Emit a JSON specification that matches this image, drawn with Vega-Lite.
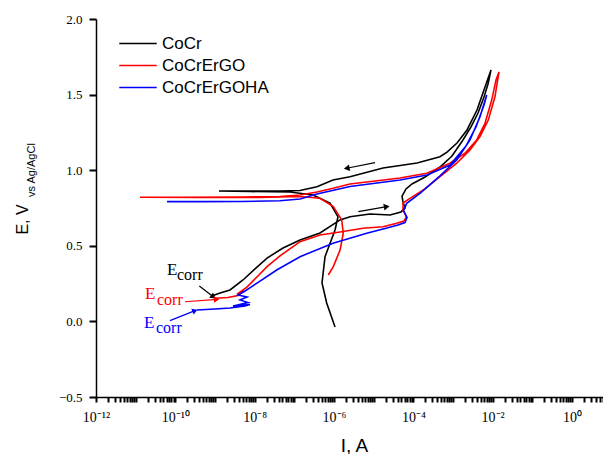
{
  "$schema": "https://vega.github.io/schema/vega-lite/v6.json",
  "width": 507,
  "height": 378,
  "autosize": {"type": "none"},
  "padding": {"left": 96, "top": 19, "right": 0, "bottom": 57},
  "config": {"view": {"stroke": "transparent"}},
  "datasets": {
    "curves": [
      {"s": "CoCr", "o": 0, "I": 8.26e-10, "E": 0.168},
      {"s": "CoCr", "o": 1, "I": 1.34e-9, "E": 0.188},
      {"s": "CoCr", "o": 2, "I": 2.39e-9, "E": 0.208},
      {"s": "CoCr", "o": 3, "I": 5.08e-9, "E": 0.274},
      {"s": "CoCr", "o": 4, "I": 1.02e-8, "E": 0.347},
      {"s": "CoCr", "o": 5, "I": 2.05e-8, "E": 0.419},
      {"s": "CoCr", "o": 6, "I": 5.18e-8, "E": 0.485},
      {"s": "CoCr", "o": 7, "I": 1.39e-7, "E": 0.538},
      {"s": "CoCr", "o": 8, "I": 4.44e-7, "E": 0.585},
      {"s": "CoCr", "o": 9, "I": 1.42e-6, "E": 0.671},
      {"s": "CoCr", "o": 10, "I": 2.53e-6, "E": 0.692},
      {"s": "CoCr", "o": 11, "I": 8.07e-6, "E": 0.710},
      {"s": "CoCr", "o": 12, "I": 2.58e-5, "E": 0.704},
      {"s": "CoCr", "o": 13, "I": 4.88e-5, "E": 0.724},
      {"s": "CoCr", "o": 14, "I": 6.15e-5, "E": 0.750},
      {"s": "CoCr", "o": 15, "I": 5.48e-5, "E": 0.790},
      {"s": "CoCr", "o": 16, "I": 5.18e-5, "E": 0.829},
      {"s": "CoCr", "o": 17, "I": 6.53e-5, "E": 0.876},
      {"s": "CoCr", "o": 18, "I": 9.25e-5, "E": 0.909},
      {"s": "CoCr", "o": 19, "I": 1.97e-4, "E": 0.955},
      {"s": "CoCr", "o": 20, "I": 4.69e-4, "E": 1.021},
      {"s": "CoCr", "o": 21, "I": 9.42e-4, "E": 1.094},
      {"s": "CoCr", "o": 22, "I": 1.78e-3, "E": 1.200},
      {"s": "CoCr", "o": 23, "I": 2.84e-3, "E": 1.286},
      {"s": "CoCr", "o": 24, "I": 4.27e-3, "E": 1.378},
      {"s": "CoCr", "o": 25, "I": 6.04e-3, "E": 1.484},
      {"s": "CoCr", "o": 26, "I": 7.62e-3, "E": 1.570},
      {"s": "CoCr", "o": 27, "I": 9.06e-3, "E": 1.663},
      {"s": "CoCr", "o": 28, "I": 6.40e-3, "E": 1.550},
      {"s": "CoCr", "o": 29, "I": 4.02e-3, "E": 1.398},
      {"s": "CoCr", "o": 30, "I": 2.25e-3, "E": 1.266},
      {"s": "CoCr", "o": 31, "I": 1.26e-3, "E": 1.180},
      {"s": "CoCr", "o": 32, "I": 7.05e-4, "E": 1.120},
      {"s": "CoCr", "o": 33, "I": 4.69e-4, "E": 1.089},
      {"s": "CoCr", "o": 34, "I": 1.24e-4, "E": 1.048},
      {"s": "CoCr", "o": 35, "I": 1.72e-5, "E": 1.015},
      {"s": "CoCr", "o": 36, "I": 2.53e-6, "E": 0.957},
      {"s": "CoCr", "o": 37, "I": 9.42e-7, "E": 0.935},
      {"s": "CoCr", "o": 38, "I": 3.72e-7, "E": 0.891},
      {"s": "CoCr", "o": 39, "I": 1.39e-7, "E": 0.866},
      {"s": "CoCr", "o": 40, "I": 4.34e-8, "E": 0.862},
      {"s": "CoCr", "o": 41, "I": 7.62e-9, "E": 0.862},
      {"s": "CoCr", "o": 42, "I": 1.26e-9, "E": 0.862},
      {"s": "CoCr", "o": 43, "I": 7.62e-9, "E": 0.859},
      {"s": "CoCr", "o": 44, "I": 7.76e-8, "E": 0.856},
      {"s": "CoCr", "o": 45, "I": 2.95e-7, "E": 0.836},
      {"s": "CoCr", "o": 46, "I": 7.93e-7, "E": 0.783},
      {"s": "CoCr", "o": 47, "I": 1.26e-6, "E": 0.692},
      {"s": "CoCr", "o": 48, "I": 1.06e-6, "E": 0.605},
      {"s": "CoCr", "o": 49, "I": 5.93e-7, "E": 0.428},
      {"s": "CoCr", "o": 50, "I": 4.98e-7, "E": 0.254},
      {"s": "CoCr", "o": 51, "I": 6.53e-7, "E": 0.122},
      {"s": "CoCr", "o": 52, "I": 1.06e-6, "E": -0.037},

      {"s": "CoCrErGO", "o": 0, "I": 1.00e-9, "E": 0.153},
      {"s": "CoCrErGO", "o": 1, "I": 2.12e-9, "E": 0.158},
      {"s": "CoCrErGO", "o": 2, "I": 3.80e-9, "E": 0.171},
      {"s": "CoCrErGO", "o": 3, "I": 5.38e-9, "E": 0.201},
      {"s": "CoCrErGO", "o": 4, "I": 3.58e-9, "E": 0.181},
      {"s": "CoCrErGO", "o": 5, "I": 6.39e-9, "E": 0.227},
      {"s": "CoCrErGO", "o": 6, "I": 1.14e-8, "E": 0.294},
      {"s": "CoCrErGO", "o": 7, "I": 2.05e-8, "E": 0.362},
      {"s": "CoCrErGO", "o": 8, "I": 4.34e-8, "E": 0.433},
      {"s": "CoCrErGO", "o": 9, "I": 9.25e-8, "E": 0.494},
      {"s": "CoCrErGO", "o": 10, "I": 1.39e-7, "E": 0.527},
      {"s": "CoCrErGO", "o": 11, "I": 4.44e-7, "E": 0.571},
      {"s": "CoCrErGO", "o": 12, "I": 1.42e-6, "E": 0.591},
      {"s": "CoCrErGO", "o": 13, "I": 5.38e-6, "E": 0.616},
      {"s": "CoCrErGO", "o": 14, "I": 1.72e-5, "E": 0.626},
      {"s": "CoCrErGO", "o": 15, "I": 3.80e-5, "E": 0.649},
      {"s": "CoCrErGO", "o": 16, "I": 5.81e-5, "E": 0.664},
      {"s": "CoCrErGO", "o": 17, "I": 6.71e-5, "E": 0.692},
      {"s": "CoCrErGO", "o": 18, "I": 5.48e-5, "E": 0.737},
      {"s": "CoCrErGO", "o": 19, "I": 5.48e-5, "E": 0.783},
      {"s": "CoCrErGO", "o": 20, "I": 8.22e-5, "E": 0.814},
      {"s": "CoCrErGO", "o": 21, "I": 1.78e-4, "E": 0.869},
      {"s": "CoCrErGO", "o": 22, "I": 4.69e-4, "E": 0.957},
      {"s": "CoCrErGO", "o": 23, "I": 1.24e-3, "E": 1.046},
      {"s": "CoCrErGO", "o": 24, "I": 2.68e-3, "E": 1.134},
      {"s": "CoCrErGO", "o": 25, "I": 4.79e-3, "E": 1.222},
      {"s": "CoCrErGO", "o": 26, "I": 7.74e-3, "E": 1.332},
      {"s": "CoCrErGO", "o": 27, "I": 1.14e-2, "E": 1.486},
      {"s": "CoCrErGO", "o": 28, "I": 1.44e-2, "E": 1.650},
      {"s": "CoCrErGO", "o": 29, "I": 1.21e-2, "E": 1.597},
      {"s": "CoCrErGO", "o": 30, "I": 9.44e-3, "E": 1.464},
      {"s": "CoCrErGO", "o": 31, "I": 6.40e-3, "E": 1.310},
      {"s": "CoCrErGO", "o": 32, "I": 3.95e-3, "E": 1.200},
      {"s": "CoCrErGO", "o": 33, "I": 2.00e-3, "E": 1.112},
      {"s": "CoCrErGO", "o": 34, "I": 8.40e-4, "E": 1.046},
      {"s": "CoCrErGO", "o": 35, "I": 2.17e-4, "E": 0.980},
      {"s": "CoCrErGO", "o": 36, "I": 4.60e-5, "E": 0.948},
      {"s": "CoCrErGO", "o": 37, "I": 2.53e-6, "E": 0.909},
      {"s": "CoCrErGO", "o": 38, "I": 9.42e-7, "E": 0.880},
      {"s": "CoCrErGO", "o": 39, "I": 3.72e-7, "E": 0.856},
      {"s": "CoCrErGO", "o": 40, "I": 1.39e-7, "E": 0.836},
      {"s": "CoCrErGO", "o": 41, "I": 4.34e-8, "E": 0.825},
      {"s": "CoCrErGO", "o": 42, "I": 4.27e-9, "E": 0.823},
      {"s": "CoCrErGO", "o": 43, "I": 1.31e-10, "E": 0.821},
      {"s": "CoCrErGO", "o": 44, "I": 1.29e-11, "E": 0.821},
      {"s": "CoCrErGO", "o": 45, "I": 4.19e-10, "E": 0.819},
      {"s": "CoCrErGO", "o": 46, "I": 1.36e-8, "E": 0.819},
      {"s": "CoCrErGO", "o": 47, "I": 1.39e-7, "E": 0.826},
      {"s": "CoCrErGO", "o": 48, "I": 4.44e-7, "E": 0.814},
      {"s": "CoCrErGO", "o": 49, "I": 9.59e-7, "E": 0.759},
      {"s": "CoCrErGO", "o": 50, "I": 1.56e-6, "E": 0.671},
      {"s": "CoCrErGO", "o": 51, "I": 1.71e-6, "E": 0.583},
      {"s": "CoCrErGO", "o": 52, "I": 1.42e-6, "E": 0.472},
      {"s": "CoCrErGO", "o": 53, "I": 9.59e-7, "E": 0.362},
      {"s": "CoCrErGO", "o": 54, "I": 7.18e-7, "E": 0.307},

      {"s": "CoCrErGOHA", "o": 0, "I": 3.52e-10, "E": 0.075},
      {"s": "CoCrErGOHA", "o": 1, "I": 1.00e-9, "E": 0.082},
      {"s": "CoCrErGOHA", "o": 2, "I": 2.39e-9, "E": 0.089},
      {"s": "CoCrErGOHA", "o": 3, "I": 5.70e-9, "E": 0.102},
      {"s": "CoCrErGOHA", "o": 4, "I": 7.62e-9, "E": 0.112},
      {"s": "CoCrErGOHA", "o": 5, "I": 2.84e-9, "E": 0.102},
      {"s": "CoCrErGOHA", "o": 6, "I": 6.79e-9, "E": 0.125},
      {"s": "CoCrErGOHA", "o": 7, "I": 4.27e-9, "E": 0.142},
      {"s": "CoCrErGOHA", "o": 8, "I": 6.39e-9, "E": 0.161},
      {"s": "CoCrErGOHA", "o": 9, "I": 3.80e-9, "E": 0.175},
      {"s": "CoCrErGOHA", "o": 10, "I": 5.70e-9, "E": 0.201},
      {"s": "CoCrErGOHA", "o": 11, "I": 8.07e-9, "E": 0.227},
      {"s": "CoCrErGOHA", "o": 12, "I": 1.12e-8, "E": 0.252},
      {"s": "CoCrErGOHA", "o": 13, "I": 3.59e-8, "E": 0.340},
      {"s": "CoCrErGOHA", "o": 14, "I": 1.39e-7, "E": 0.428},
      {"s": "CoCrErGOHA", "o": 15, "I": 9.42e-7, "E": 0.517},
      {"s": "CoCrErGOHA", "o": 16, "I": 6.67e-6, "E": 0.583},
      {"s": "CoCrErGOHA", "o": 17, "I": 1.93e-5, "E": 0.614},
      {"s": "CoCrErGOHA", "o": 18, "I": 4.10e-5, "E": 0.638},
      {"s": "CoCrErGOHA", "o": 19, "I": 6.15e-5, "E": 0.654},
      {"s": "CoCrErGOHA", "o": 20, "I": 6.92e-5, "E": 0.687},
      {"s": "CoCrErGOHA", "o": 21, "I": 5.65e-5, "E": 0.733},
      {"s": "CoCrErGOHA", "o": 22, "I": 6.79e-5, "E": 0.781},
      {"s": "CoCrErGOHA", "o": 23, "I": 1.47e-4, "E": 0.847},
      {"s": "CoCrErGOHA", "o": 24, "I": 4.69e-4, "E": 0.962},
      {"s": "CoCrErGOHA", "o": 25, "I": 1.24e-3, "E": 1.067},
      {"s": "CoCrErGOHA", "o": 26, "I": 2.68e-3, "E": 1.200},
      {"s": "CoCrErGOHA", "o": 27, "I": 4.79e-3, "E": 1.354},
      {"s": "CoCrErGOHA", "o": 28, "I": 7.06e-3, "E": 1.497},
      {"s": "CoCrErGOHA", "o": 29, "I": 6.04e-3, "E": 1.431},
      {"s": "CoCrErGOHA", "o": 30, "I": 3.79e-3, "E": 1.286},
      {"s": "CoCrErGOHA", "o": 31, "I": 2.12e-3, "E": 1.160},
      {"s": "CoCrErGOHA", "o": 32, "I": 8.40e-4, "E": 1.034},
      {"s": "CoCrErGOHA", "o": 33, "I": 2.21e-4, "E": 0.968},
      {"s": "CoCrErGOHA", "o": 34, "I": 4.60e-5, "E": 0.935},
      {"s": "CoCrErGOHA", "o": 35, "I": 2.53e-6, "E": 0.892},
      {"s": "CoCrErGOHA", "o": 36, "I": 3.72e-7, "E": 0.843},
      {"s": "CoCrErGOHA", "o": 37, "I": 1.39e-7, "E": 0.810},
      {"s": "CoCrErGOHA", "o": 38, "I": 4.34e-8, "E": 0.798},
      {"s": "CoCrErGOHA", "o": 39, "I": 4.27e-9, "E": 0.793},
      {"s": "CoCrErGOHA", "o": 40, "I": 4.19e-10, "E": 0.792},
      {"s": "CoCrErGOHA", "o": 41, "I": 6.17e-11, "E": 0.792}
    ],
    "notes": [
      {"s": "CoCr", "t": "E", "I": 6.17e-11, "E": 0.307},
      {"s": "CoCr", "t": "corr", "I": 1.10e-10, "E": 0.274},
      {"s": "CoCrErGO", "t": "E", "I": 1.72e-11, "E": 0.145},
      {"s": "CoCrErGO", "t": "corr", "I": 3.45e-11, "E": 0.108},
      {"s": "CoCrErGOHA", "t": "E", "I": 1.62e-11, "E": -0.046},
      {"s": "CoCrErGOHA", "t": "corr", "I": 3.25e-11, "E": -0.079}
    ],
    "ylab": [
      {"t": "vs Ag/AgCl", "I": 2.98e-14, "E": 1.001}
    ],
    "arrows": [
      {"s": "CoCr", "a": "bL", "I": 1.08e-5, "E": 1.050, "I2": 2.09e-6, "E2": 1.013},
      {"s": "CoCr", "a": "bR", "I": 4.09e-6, "E": 0.726, "I2": 2.13e-5, "E2": 0.759},
      {"s": "CoCr", "a": "eB", "I": 4.02e-10, "E": 0.234, "I2": 9.06e-10, "E2": 0.163},
      {"s": "CoCrErGO", "a": "eR", "I": 1.75e-10, "E": 0.130, "I2": 1.10e-9, "E2": 0.146},
      {"s": "CoCrErGOHA", "a": "eBl", "I": 7.33e-11, "E": 0.005, "I2": 3.13e-10, "E2": 0.071}
    ]
  },
  "layer": [
    {
      "data": {"name": "curves"},
      "mark": {"type": "line", "strokeWidth": 1.6, "clip": true},
      "encoding": {
        "x": {
          "field": "I", "type": "quantitative",
          "scale": {"type": "log", "domain": [1e-12, 6.03], "nice": false},
          "axis": {
            "orient": "bottom",
            "values": [1e-12,2e-12,3e-12,4e-12,5e-12,6e-12,7e-12,8e-12,9e-12,
                       1e-11,2e-11,3e-11,4e-11,5e-11,6e-11,7e-11,8e-11,9e-11,
                       1e-10,2e-10,3e-10,4e-10,5e-10,6e-10,7e-10,8e-10,9e-10,
                       1e-9,2e-9,3e-9,4e-9,5e-9,6e-9,7e-9,8e-9,9e-9,
                       1e-8,2e-8,3e-8,4e-8,5e-8,6e-8,7e-8,8e-8,9e-8,
                       1e-7,2e-7,3e-7,4e-7,5e-7,6e-7,7e-7,8e-7,9e-7,
                       1e-6,2e-6,3e-6,4e-6,5e-6,6e-6,7e-6,8e-6,9e-6,
                       1e-5,2e-5,3e-5,4e-5,5e-5,6e-5,7e-5,8e-5,9e-5,
                       1e-4,2e-4,3e-4,4e-4,5e-4,6e-4,7e-4,8e-4,9e-4,
                       1e-3,2e-3,3e-3,4e-3,5e-3,6e-3,7e-3,8e-3,9e-3,
                       1e-2,2e-2,3e-2,4e-2,5e-2,6e-2,7e-2,8e-2,9e-2,
                       1e-1,2e-1,3e-1,4e-1,5e-1,6e-1,7e-1,8e-1,9e-1,
                       1,2,3,4,5,6],
            "labelExpr": "datum.value == 1e-12 ? '10⁻¹²' : datum.value == 1e-10 ? '10⁻¹⁰' : datum.value == 1e-8 ? '10⁻⁸' : datum.value == 1e-6 ? '10⁻⁶' : datum.value == 1e-4 ? '10⁻⁴' : datum.value == 1e-2 ? '10⁻²' : datum.value == 1 ? '10⁰' : ''",
            "tickSize": 5, "tickColor": "black", "tickWidth": 2,
            "grid": false, "labelOverlap": false, "labelFlush": false,
            "labelFont": "Liberation Serif", "labelFontSize": 14, "labelColor": "black", "labelPadding": 8,
            "domainColor": "black", "domainWidth": 1.5,
            "title": "I, A", "titleFont": "Liberation Sans", "titleFontSize": 19, "titleFontWeight": "normal", "titleColor": "black",
            "titleBaseline": "alphabetic", "titleAlign": "center", "titleX": 258, "titleY": 54
          }
        },
        "y": {
          "field": "E", "type": "quantitative",
          "scale": {"domain": [-0.5, 2.0], "nice": false, "zero": false},
          "axis": {
            "orient": "left",
            "values": [-0.5,-0.25,0,0.25,0.5,0.75,1,1.25,1.5,1.75,2],
            "labelExpr": "abs(datum.value*2 - round(datum.value*2)) < 0.001 ? replace(format(datum.value, '.1f'), '-', '−') : ''",
            "tickSize": 7, "tickColor": "black", "tickWidth": 2,
            "grid": false, "labelOverlap": false, "labelFlush": false,
            "labelFont": "Liberation Serif", "labelFontSize": 13, "labelColor": "black", "labelPadding": 7,
            "domainColor": "black", "domainWidth": 1.5,
            "title": "E, V", "titleFont": "Liberation Sans", "titleFontSize": 16, "titleFontWeight": "normal", "titleColor": "black",
            "titleAngle": -90, "titleAlign": "center", "titleBaseline": "alphabetic", "titleX": -68.5, "titleY": 200
          }
        },
        "color": {
          "field": "s", "type": "nominal",
          "scale": {"domain": ["CoCr", "CoCrErGO", "CoCrErGOHA"], "range": ["#000000", "#ff0000", "#0000ff"]},
          "legend": {
            "orient": "none", "legendX": 46, "legendY": 16, "title": null,
            "symbolType": "M-5,0H1", "symbolSize": 156, "symbolStrokeWidth": 1.6,
            "labelFont": "Liberation Sans", "labelFontSize": 17, "labelColor": "black",
            "labelOffset": 3, "rowPadding": 4, "padding": 0, "labelLimit": 300
          }
        },
        "order": {"field": "o", "type": "quantitative"}
      }
    },
    {
      "mark": {"type": "rule", "color": "#333", "strokeWidth": 1.5},
      "encoding": {"y": {"datum": 2.0}}
    },
    {
      "data": {"name": "ylab"},
      "mark": {"type": "text", "angle": 270, "align": "center", "baseline": "alphabetic", "font": "Liberation Sans", "fontSize": 11, "color": "black"},
      "encoding": {
        "x": {"field": "I", "type": "quantitative"},
        "y": {"field": "E", "type": "quantitative"},
        "text": {"field": "t"}
      }
    },
    {
      "data": {"name": "notes"},
      "transform": [{"filter": "datum.t == 'E'"}],
      "mark": {"type": "text", "align": "left", "baseline": "alphabetic", "font": "Liberation Serif", "fontSize": 17},
      "encoding": {
        "x": {"field": "I", "type": "quantitative"},
        "y": {"field": "E", "type": "quantitative"},
        "text": {"field": "t"},
        "color": {"field": "s", "type": "nominal", "legend": null}
      }
    },
    {
      "data": {"name": "notes"},
      "transform": [{"filter": "datum.t == 'corr'"}],
      "mark": {"type": "text", "align": "left", "baseline": "alphabetic", "font": "Liberation Serif", "fontSize": 16},
      "encoding": {
        "x": {"field": "I", "type": "quantitative"},
        "y": {"field": "E", "type": "quantitative"},
        "text": {"field": "t"},
        "color": {"field": "s", "type": "nominal", "legend": null}
      }
    },
    {
      "data": {"name": "arrows"},
      "mark": {"type": "rule", "strokeWidth": 1.2},
      "encoding": {
        "x": {"field": "I", "type": "quantitative"},
        "y": {"field": "E", "type": "quantitative"},
        "x2": {"field": "I2"},
        "y2": {"field": "E2"},
        "color": {"field": "s", "type": "nominal", "legend": null}
      }
    },
    {
      "data": {"name": "arrows"},
      "transform": [{"filter": "datum.a == 'bL'"}],
      "mark": {"type": "point", "shape": "triangle-right", "filled": true, "opacity": 1, "size": 45, "angle": 169},
      "encoding": {
        "x": {"field": "I2", "type": "quantitative"},
        "y": {"field": "E2", "type": "quantitative"},
        "color": {"field": "s", "type": "nominal", "legend": null}
      }
    },
    {
      "data": {"name": "arrows"},
      "transform": [{"filter": "datum.a == 'bR'"}],
      "mark": {"type": "point", "shape": "triangle-right", "filled": true, "opacity": 1, "size": 45, "angle": -10},
      "encoding": {
        "x": {"field": "I2", "type": "quantitative"},
        "y": {"field": "E2", "type": "quantitative"},
        "color": {"field": "s", "type": "nominal", "legend": null}
      }
    },
    {
      "data": {"name": "arrows"},
      "transform": [{"filter": "datum.a == 'eB'"}],
      "mark": {"type": "point", "shape": "triangle-right", "filled": true, "opacity": 1, "size": 40, "angle": 37},
      "encoding": {
        "x": {"field": "I2", "type": "quantitative"},
        "y": {"field": "E2", "type": "quantitative"},
        "color": {"field": "s", "type": "nominal", "legend": null}
      }
    },
    {
      "data": {"name": "arrows"},
      "transform": [{"filter": "datum.a == 'eR'"}],
      "mark": {"type": "point", "shape": "triangle-right", "filled": true, "opacity": 1, "size": 40, "angle": -4},
      "encoding": {
        "x": {"field": "I2", "type": "quantitative"},
        "y": {"field": "E2", "type": "quantitative"},
        "color": {"field": "s", "type": "nominal", "legend": null}
      }
    },
    {
      "data": {"name": "arrows"},
      "transform": [{"filter": "datum.a == 'eBl'"}],
      "mark": {"type": "point", "shape": "triangle-right", "filled": true, "opacity": 1, "size": 40, "angle": -22},
      "encoding": {
        "x": {"field": "I2", "type": "quantitative"},
        "y": {"field": "E2", "type": "quantitative"},
        "color": {"field": "s", "type": "nominal", "legend": null}
      }
    }
  ]
}
